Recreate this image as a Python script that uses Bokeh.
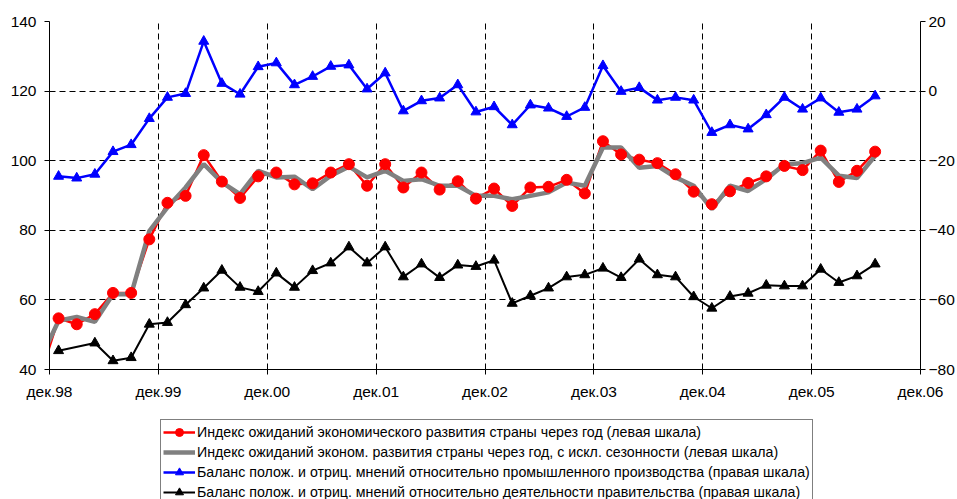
from bokeh.plotting import figure
from bokeh.layouts import column
from bokeh.models import (Range1d, LinearAxis, FixedTicker, Legend, LegendItem,
                          ColumnDataSource)
from bokeh.embed import file_html
from bokeh.resources import INLINE

# ---------------- data ----------------
main_dates = ["1998-11",
              "1999-01", "1999-03", "1999-05", "1999-07", "1999-09", "1999-11",
              "2000-01", "2000-03", "2000-05", "2000-07", "2000-09", "2000-11",
              "2001-01", "2001-03", "2001-05", "2001-07", "2001-09", "2001-11",
              "2002-01", "2002-03", "2002-05", "2002-07", "2002-09", "2002-11",
              "2003-01", "2003-03", "2003-05", "2003-07", "2003-09", "2003-11",
              "2004-01", "2004-03", "2004-05", "2004-07", "2004-09", "2004-11",
              "2005-01", "2005-03", "2005-05", "2005-07", "2005-09", "2005-11",
              "2006-01", "2006-03", "2006-05", "2006-07"]

red_index = [38.5,
             54.7, 53.0, 55.9, 62.0, 62.0, 77.4,
             87.9, 89.9, 101.6, 94.0, 89.3, 95.5,
             96.6, 93.2, 93.5, 96.6, 99.0, 92.8,
             99.0, 92.3, 96.6, 91.7, 94.1, 89.1,
             92.0, 87.0, 92.3, 92.5, 94.5, 90.6,
             105.6, 101.8, 100.3, 99.3, 96.1, 91.1,
             87.5, 91.2, 93.6, 95.5, 98.5, 97.3,
             102.9, 93.9, 97.1, 102.6]

gray_sa = [43.0,
           54.0, 55.1, 53.7, 61.6, 61.6, 79.8,
           86.6, 92.3, 99.0, 93.8, 90.4, 97.1,
           95.2, 95.4, 91.8, 95.7, 98.3, 95.2,
           97.1, 94.2, 94.7, 92.8, 92.8, 89.9,
           89.9, 88.9, 89.9, 90.9, 93.7, 92.8,
           103.8, 103.8, 98.0, 98.5, 95.2, 92.8,
           86.1, 92.8, 91.3, 94.7, 99.0, 99.3,
           100.9, 95.7, 95.0, 101.4]

blue_dates = main_dates[1:]
blue_industry = [-24.5, -25.0, -23.9, -17.4, -15.4, -7.9,
                 -1.8, -0.7, 14.3, 2.2, -0.9, 7.0,
                 8.1, 1.8, 4.2, 7.1, 7.5, 0.6,
                 5.2, -5.7, -2.8, -2.0, 1.8, -6.0,
                 -4.5, -9.7, -4.0, -4.9, -7.3, -4.7,
                 7.3, -0.1, 1.0, -2.6, -1.8, -2.6,
                 -11.9, -9.7, -10.9, -6.8, -1.8, -5.2,
                 -2.0, -6.1, -5.2, -1.4]

black_dates = ["1999-01", "1999-05", "1999-07", "1999-09", "1999-11",
               "2000-01", "2000-03", "2000-05", "2000-07", "2000-09", "2000-11",
               "2001-01", "2001-03", "2001-05", "2001-07", "2001-09", "2001-11",
               "2002-01", "2002-03", "2002-05", "2002-07", "2002-09", "2002-11",
               "2003-01", "2003-03", "2003-05", "2003-07", "2003-09", "2003-11",
               "2004-01", "2004-03", "2004-05", "2004-07", "2004-09", "2004-11",
               "2005-01", "2005-03", "2005-05", "2005-07", "2005-09", "2005-11",
               "2006-01", "2006-03", "2006-05", "2006-07"]
black_government = [-74.6, -72.4, -77.5, -76.6, -67.0,
                    -66.5, -61.4, -56.6, -51.5, -56.4, -57.6,
                    -52.3, -56.4, -51.6, -49.4, -44.8, -49.4,
                    -44.8, -53.4, -49.7, -53.6, -50.0, -50.4,
                    -48.6, -61.0, -58.8, -56.6, -53.4, -52.8,
                    -50.9, -53.6, -48.3, -52.8, -53.4, -59.1,
                    -62.4, -59.0, -58.1, -55.8, -56.0, -56.0,
                    -51.2, -55.0, -53.1, -49.7]

x_tick_labels = ["дек.98", "дек.99", "дек.00", "дек.01", "дек.02",
                 "дек.03", "дек.04", "дек.05", "дек.06"]
left_ticks = [40, 60, 80, 100, 120, 140]
right_ticks = [-80, -60, -40, -20, 0, 20]

legend_labels = [
    "Индекс ожиданий экономического развития страны через год (левая шкала)",
    "Индекс ожиданий эконом. развития страны через год, с искл. сезонности (левая шкала)",
    "Баланс полож. и отриц. мнений относительно промышленного производства (правая шкала)",
    "Баланс полож. и отриц. мнений относительно деятельности правительства (правая шкала)",
]


def month_index(s):
    y, m = s.split("-")
    return (int(y) - 1998) * 12 + int(m) - 12


x_main = [month_index(d) for d in main_dates]
x_blue = [month_index(d) for d in blue_dates]
x_black = [month_index(d) for d in black_dates]
x_ticks = [12 * i for i in range(len(x_tick_labels))]

FONT = "Liberation Sans"
RED, GRAY, BLUE, BLACK = "#FF0000", "#808080", "#0000FF", "#000000"

src_main = ColumnDataSource(dict(x=x_main, red=red_index, gray=gray_sa))
src_blue = ColumnDataSource(dict(x=x_blue, y=blue_industry))
src_black = ColumnDataSource(dict(x=x_black, y=black_government))


def draw_series(fig, y_right=None):
    """Draw all four series on fig; returns renderers for the legend."""
    kw = {} if y_right is None else {"y_range_name": y_right}
    bl = fig.line("x", "y", source=src_black, line_color=BLACK, line_width=2, **kw)
    bm = fig.scatter("x", "y", source=src_black, marker="triangle", size=10,
                     fill_color=BLACK, line_color=BLACK, **kw)
    ul = fig.line("x", "y", source=src_blue, line_color=BLUE, line_width=2.5, **kw)
    um = fig.scatter("x", "y", source=src_blue, marker="triangle", size=10,
                     fill_color=BLUE, line_color=BLUE, **kw)
    rl = fig.line("x", "red", source=src_main, line_color=RED, line_width=2.5)
    gl = fig.line("x", "gray", source=src_main, line_color=GRAY, line_width=4.5)
    rm = fig.scatter("x", "red", source=src_main, marker="circle", size=11,
                     fill_color=RED, line_color=RED)
    return [[rl, rm], [gl], [ul, um], [bl, bm]]


# ---------------- main chart ----------------
p = figure(width=957, height=410, output_backend="svg", toolbar_location=None,
           x_range=Range1d(0, 96), y_range=Range1d(40, 140),
           min_border_left=49, min_border_right=36, min_border_top=21,
           min_border_bottom=41)
p.outline_line_color = None
p.background_fill_color = "white"
p.border_fill_color = "white"
p.extra_y_ranges = {"right": Range1d(-80, 20)}

p.xaxis.ticker = FixedTicker(ticks=x_ticks)
p.xaxis.major_label_overrides = {t: l for t, l in zip(x_ticks, x_tick_labels)}
p.yaxis.ticker = FixedTicker(ticks=left_ticks)
right_axis = LinearAxis(y_range_name="right", ticker=FixedTicker(ticks=right_ticks))
p.add_layout(right_axis, "right")

for ax in [p.xaxis[0], p.yaxis[0], right_axis]:
    ax.axis_line_color = "black"
    ax.axis_line_width = 1
    ax.major_tick_line_color = "black"
    ax.major_tick_out = 5
    ax.major_tick_in = 0
    ax.minor_tick_line_color = None
    ax.major_label_text_font = FONT
    ax.major_label_text_font_size = "15.5px"
    ax.major_label_text_color = "black"
p.xaxis.major_label_standoff = 8
p.yaxis[0].major_label_standoff = 8
right_axis.major_label_standoff = 3

for g in [p.xgrid[0], p.ygrid[0]]:
    g.grid_line_color = "black"
    g.grid_line_dash = "6 4"
    g.grid_line_width = 1
p.xgrid.ticker = FixedTicker(ticks=x_ticks)
p.ygrid.ticker = FixedTicker(ticks=left_ticks)

draw_series(p, y_right="right")

# ---------------- legend strip below the chart ----------------
# Same sources and styles; the strip's ranges keep the series out of view,
# so only the legend (with its glyphs) shows.
lg = figure(width=957, height=89, output_backend="svg", toolbar_location=None,
            x_range=Range1d(-300, -200), y_range=Range1d(-900, -800),
            x_axis_location=None, y_axis_location=None,
            min_border_left=0, min_border_right=0, min_border_top=0,
            min_border_bottom=0)
lg.outline_line_color = None
lg.grid.visible = False
lg.background_fill_color = "white"
lg.border_fill_color = "white"
lg.extra_y_ranges = {"right": Range1d(-900, -800)}

leg_renderers = draw_series(lg, y_right="right")

legend = Legend(items=[LegendItem(label=lab, renderers=rs)
                       for lab, rs in zip(legend_labels, leg_renderers)],
                location=(111, -6))
legend.label_text_font = FONT
legend.label_text_font_size = "14.2px"
legend.label_text_color = "black"
legend.label_height = 20
legend.glyph_height = 20
legend.glyph_width = 32
legend.label_standoff = 2
legend.spacing = 0
legend.padding = 2
legend.margin = 0
legend.border_line_color = "black"
legend.border_line_width = 1
legend.background_fill_color = "white"
legend.background_fill_alpha = 1
lg.add_layout(legend)

layout = column(p, lg, spacing=0)
open("out.html", "w").write(file_html(layout, INLINE))
